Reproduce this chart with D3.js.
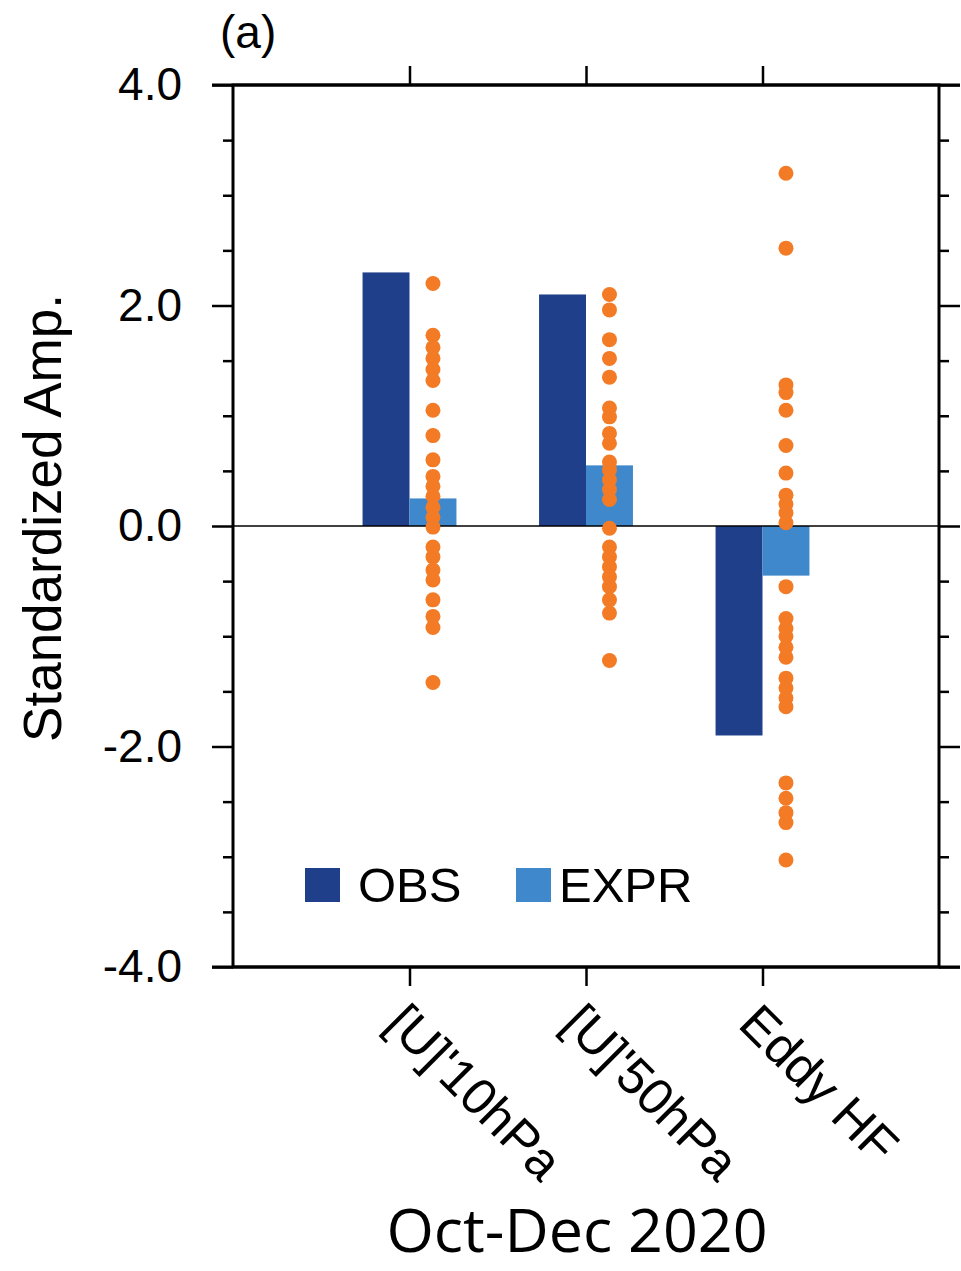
<!DOCTYPE html>
<html>
<head>
<meta charset="utf-8">
<script src="https://cdn.jsdelivr.net/npm/d3@7"></script>
<style>
  body { margin: 0; background: #fff; }
  svg text { font-family: "Liberation Sans", Arial, sans-serif; fill: #000; }
</style>
</head>
<body>
<div id="chart"></div>
<script>
// categories and values
const categories = ["[U]'10hPa", "[U]'50hPa", "Eddy HF"];
const obsValues = [2.3, 2.1, -1.9];
const exprValues = [0.25, 0.55, -0.45];

// ensemble members (orange dots), one list per category
const members10 = [2.2, 1.73, 1.62, 1.52, 1.42, 1.32, 1.05, 0.82, 0.6, 0.45, 0.36, 0.27, 0.17, 0.08,
    -0.01, -0.19, -0.28, -0.4, -0.49, -0.67, -0.82, -0.92, -1.42];
const members50 = [2.1, 1.96, 1.69, 1.52, 1.35, 1.07, 0.99, 0.84, 0.75, 0.58, 0.51, 0.42, 0.33, 0.24,
    -0.02, -0.19, -0.28, -0.37, -0.46, -0.55, -0.67, -0.79, -1.22];
const membersHF = [3.2, 2.52, 1.28, 1.21, 1.05, 0.73, 0.48, 0.28, 0.2, 0.12, 0.03, -0.55, -0.84, -0.93,
    -1.0, -1.1, -1.19, -1.38, -1.47, -1.56, -1.64, -2.33, -2.47, -2.6, -2.69, -3.03];
const members = [members10, members50, membersHF];

const yMajorTicks = [4, 2, 0, -2, -4];
const yTickLabels = ["4.0", "2.0", "0.0", "-2.0", "-4.0"];
const legendNames = ["OBS", "EXPR"];

const obsColor = "#1f3f8b";
const exprColor = "#3f88cc";
const dotColor = "#f47b25";

const width = 961, height = 1271;
const plot = {left: 233, right: 939, top: 85, bottom: 967};

const svg = d3.select('#chart').append('svg')
    .attr('width', width)
    .attr('height', height);

const xScale = d3.scaleLinear()
    .domain([0, categories.length + 1])
    .range([plot.left, plot.right]);

const yScale = d3.scaleLinear()
    .domain([-4, 4])
    .range([plot.bottom, plot.top]);

const barW = xScale(0.266) - xScale(0);

// bars
const barData = categories.flatMap((c, i) => [
    {x: xScale(i + 1) - barW, v: obsValues[i], color: obsColor},
    {x: xScale(i + 1), v: exprValues[i], color: exprColor}
]);

svg.append('g')
    .selectAll('rect')
    .data(barData)
    .enter()
    .append('rect')
    .attr('x', d => d.x)
    .attr('width', barW)
    .attr('y', d => Math.min(yScale(d.v), yScale(0)))
    .attr('height', d => Math.abs(yScale(d.v) - yScale(0)))
    .style('fill', d => d.color);

// zero line
svg.append('line')
    .attr('x1', plot.left).attr('x2', plot.right)
    .attr('y1', yScale(0)).attr('y2', yScale(0))
    .style('stroke', '#000')
    .style('stroke-width', 1.6);

// ensemble dots
const dotData = members.flatMap((list, i) => list.map(v => ({cx: xScale(i + 1) + barW / 2, v})));
svg.append('g')
    .selectAll('circle')
    .data(dotData)
    .enter()
    .append('circle')
    .attr('cx', d => d.cx)
    .attr('cy', d => yScale(d.v))
    .attr('r', 7.5)
    .style('fill', dotColor);

// axes - ticks point outward, all four sides
const minorTicks = d3.range(-4, 4.01, 0.5).filter(v => !yMajorTicks.includes(v));
const catTicks = categories.map((c, i) => i + 1);

const axisLeft = d3.axisLeft(yScale).tickValues(yMajorTicks).tickSize(21).tickFormat((d, i) => yTickLabels[i]).tickPadding(30);
const axisLeftMinor = d3.axisLeft(yScale).tickValues(minorTicks).tickSize(10).tickFormat('');
const axisRight = d3.axisRight(yScale).tickValues(yMajorTicks).tickSize(21).tickFormat('');
const axisRightMinor = d3.axisRight(yScale).tickValues(minorTicks).tickSize(10).tickFormat('');
const axisTop = d3.axisTop(xScale).tickValues(catTicks).tickSize(19).tickFormat('');
const axisBottom = d3.axisBottom(xScale).tickValues(catTicks).tickSize(19).tickFormat('');

const axes = [
    [axisLeft, `translate(${plot.left},0)`],
    [axisLeftMinor, `translate(${plot.left},0)`],
    [axisRight, `translate(${plot.right},0)`],
    [axisRightMinor, `translate(${plot.right},0)`],
    [axisTop, `translate(0,${plot.top})`],
    [axisBottom, `translate(0,${plot.bottom})`]
];
axes.forEach(([ax, tr]) => {
    const g = svg.append('g').attr('transform', tr).call(ax);
    g.select('.domain').remove();
    g.selectAll('line').style('stroke', '#000').style('stroke-width', 2.5);
    g.selectAll('text')
        .style('font-size', '46px')
        .style('font-family', '"Liberation Sans", Arial, sans-serif');
});

// frame
svg.append('rect')
    .attr('x', plot.left).attr('y', plot.top)
    .attr('width', plot.right - plot.left)
    .attr('height', plot.bottom - plot.top)
    .style('fill', 'none')
    .style('stroke', '#000')
    .style('stroke-width', 3);
// the outer ends of the top/bottom major ticks at the corners
[plot.top, plot.bottom].forEach(y => {
    svg.append('line')
        .attr('x1', plot.left - 21).attr('x2', plot.right + 21)
        .attr('y1', y).attr('y2', y)
        .style('stroke', '#000').style('stroke-width', 3);
});

// category labels, rotated 45 deg
svg.append('g')
    .selectAll('text')
    .data(categories)
    .enter()
    .append('text')
    .attr('transform', (d, i) => `translate(${xScale(i + 1) - 26},${1026}) rotate(45)`)
    .attr('text-anchor', 'start')
    .style('font-size', '51px')
    .text(d => d);

// y label
svg.append('text')
    .attr('transform', `translate(61,${yScale(0) - 8}) rotate(-90)`)
    .attr('text-anchor', 'middle')
    .style('font-size', '53px')
    .text('Standardized Amp.');

// panel label
svg.append('text')
    .attr('x', 220).attr('y', 48)
    .style('font-size', '46px')
    .text('(a)');

// legend
const legendX = [305, 516];
const legendGap = [53, 43];
const legend = svg.append('g')
    .selectAll('g')
    .data(legendNames)
    .enter()
    .append('g')
    .attr('transform', (d, i) => `translate(${legendX[i]},868)`);
legend.append('rect')
    .attr('width', 35).attr('height', 34)
    .style('fill', (d, i) => i === 0 ? obsColor : exprColor);
legend.append('text')
    .attr('x', (d, i) => legendGap[i]).attr('y', 34)
    .style('font-size', '49px')
    .text(d => d);

// period caption
svg.append('text')
    .attr('x', 577).attr('y', 1252)
    .attr('text-anchor', 'middle')
    .style('font-family', '"Open Sans", Lato, sans-serif')
    .style('font-size', '61px')
    .text('Oct-Dec 2020');
</script>
</body>
</html>
